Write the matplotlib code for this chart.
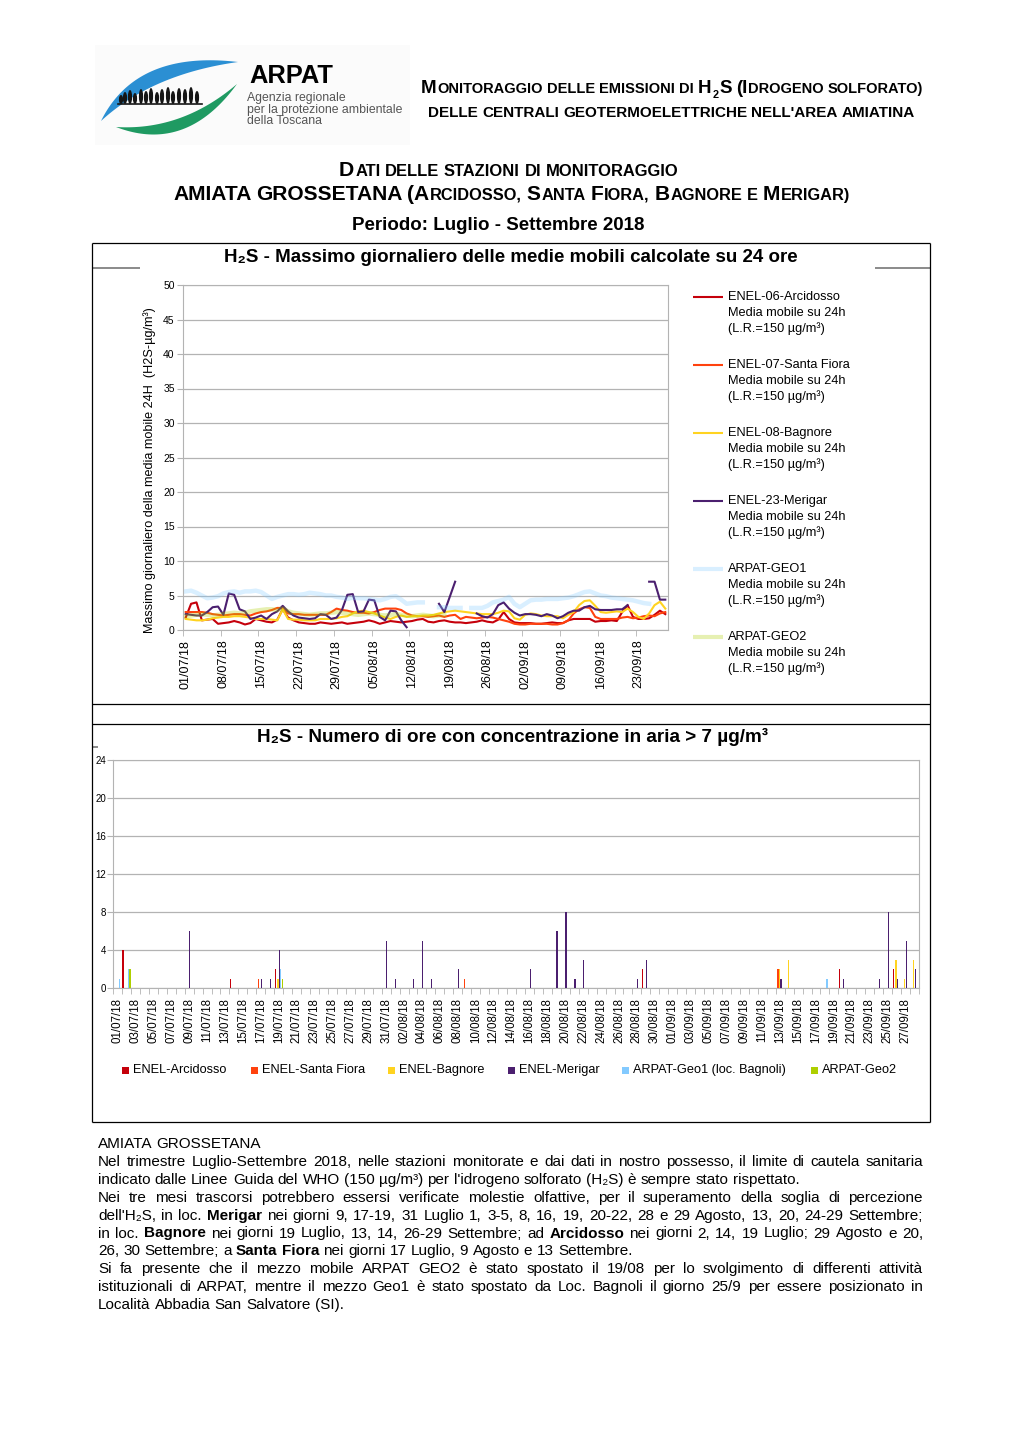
import numpy as np
import pandas as pd
import matplotlib
matplotlib.use('Agg')
import matplotlib.pyplot as plt
from matplotlib.patches import Polygon, Ellipse, Rectangle

# ------------------------------------------------------------------ DATA
start_date = '2018-07-01'
n_days = 90
day_labels = pd.date_range(start_date, periods=n_days).strftime('%d/%m/%y').tolist()
nan = np.nan

# Max daily 24h moving average (ug/m3), days 01/07 .. 28/09
arcidosso = [1.8, 3.8, 4.0, 1.4, 1.5, 1.6, 0.9, 1.0, 1.1, 1.3, 1.1, 0.8, 1.0, 1.6, 1.4, 1.2, 1.1, 1.5, 3.0, 1.8,
             1.4, 1.1, 1.0, 0.9, 0.9, 1.1, 1.0, 0.9, 1.0, 1.1, 0.9,
             1.0, 1.1, 1.2, 1.4, 1.2, 0.9, 1.1, 1.3, 1.2, 1.1, 1.2, 1.3, 1.5, 1.6, 1.2, 1.1, 1.3, 1.4, 1.2,
             1.1, 1.1, 1.0, 1.1, 1.2, 1.4, 1.2, 1.1, 1.5, 2.6, 1.6,
             1.1, 1.0, 1.0, 1.0, 0.9, 0.9, 1.0, 1.1, 1.0, 1.0, 1.4, 1.6, 1.6, 1.6, 1.6, 1.2, 1.3, 1.3, 1.4,
             1.3, 2.6, 3.6, 1.9, 1.6, 1.6, 1.7, 2.2, 2.8, 2.3]
santa_fiora = [2.6, 2.6, 2.6, 2.6, 2.5, 2.3, 2.2, 2.1, 2.2, 2.3, 2.3, 2.2, 2.1, 2.4, 2.6, 2.7, 2.9, 3.2, 3.2, 2.4,
               2.3, 2.3, 2.2, 2.2, 2.2, 2.2, 2.2, 2.6, 3.1, 2.9, 2.8,
               2.6, 2.5, 2.5, 2.4, 2.6, 2.9, 3.1, 3.1, 3.1, 2.9, 2.4, 2.1, 2.0, 2.0, 1.9, 2.0, 2.1, 1.9, 2.1,
               2.2, 1.6, 1.9, 1.8, 1.7, 1.8, 1.9, 1.8, 1.6, 1.4, 1.2,
               0.9, 0.8, 0.8, 0.9, 0.9, 0.9, 0.9, 0.8, 0.8, 1.0, 1.4, 2.4, 3.0, 3.3, 3.2, 1.9, 1.6, 1.6, 1.6,
               1.6, 1.8, 1.9, 1.7, 1.8, 2.0, 2.1, 2.0, 2.4, 2.6]
bagnore = [1.6, 1.5, 1.4, 1.4, 1.5, 1.7, 1.8, 1.9, 1.9, 2.0, 2.0, 1.9, 1.8, 1.6, 1.6, 1.6, 1.5, 1.4, 3.0, 1.6,
           1.5, 1.5, 1.4, 1.4, 1.4, 1.6, 1.6, 1.6, 1.7, 1.9, 2.0,
           2.4, 2.7, 2.8, 2.6, 2.4, 2.1, 1.8, 1.6, 1.9, 2.1, 1.9, 2.0, 2.0, 2.1, 2.1, 2.2, 2.4, 2.6, 2.7,
           2.8, 2.7, 2.6, 2.5, 2.4, 2.3, 2.3, 2.3, 2.5, 2.8, 2.7,
           1.7, 1.5, 2.2, 2.4, 2.3, 2.1, 2.0, 2.0, 2.0, 1.7, 2.2, 2.6, 3.6, 4.2, 4.3, 3.5, 2.6, 2.5, 2.6,
           2.7, 2.6, 3.1, 2.6, 1.9, 1.6, 2.4, 3.6, 4.1, 3.1]
merigar = [2.3, 2.2, 2.1, 2.1, 2.6, 3.3, 3.4, 2.2, 5.3, 5.1, 3.0, 2.7, 1.6, 1.8, 2.1, 1.6, 2.3, 2.7, 3.5, 2.7,
           2.1, 1.8, 1.7, 1.6, 1.7, 2.3, 2.2, 1.6, 1.8, 2.9, 5.1,
           5.2, 2.6, 2.7, 4.4, 4.3, 1.9, 1.4, 2.8, 2.7, 1.4, 0.4, nan, nan, nan, nan, nan, 3.8, 2.6, 4.8,
           7.0, nan, nan, nan, 2.4, 2.0, 1.8, 2.3, 3.6, 4.0, 3.1,
           2.5, 2.1, 2.3, 2.3, 2.2, 2.0, 2.3, 2.1, 1.7, 2.0, 2.5, 2.8, 2.8, 3.3, 3.5, 3.0, 2.9, 2.9, 2.9,
           3.0, 3.0, 3.6, nan, nan, nan, 7.0, 7.0, 4.4, 4.4]
geo1 = [5.6, 5.7, 5.4, 5.0, 4.6, 4.7, 4.9, 5.3, 5.5, 5.6, 5.4, 5.6, 5.6, 5.7, 5.5, 5.0, 4.5, 4.8, 5.0, 5.2,
        5.2, 5.1, 5.2, 5.4, 5.3, 5.2, 5.0, 5.0, 4.8, 4.7, 4.5,
        4.7, 4.6, 4.6, 4.5, 4.4, 4.3, 4.5, 4.8, 4.9, 4.4, 3.8, 3.9, 4.0, 4.0, nan, nan, 3.3, 3.3, 3.2,
        3.2, 3.2, nan, 3.2, 3.2, 3.2, 3.5, 4.0, 4.2, 4.4, 4.8,
        3.8, 3.3, 3.8, 4.3, 4.4, 4.4, 4.5, 4.5, 4.5, 4.6, 4.7, 4.9, 5.2, 5.5, 5.6, 5.3, 5.0, 4.9, 4.7,
        4.6, 4.5, 4.4, 4.3, 4.1, 3.9, 3.8, nan, nan, nan]
geo2 = [2.0, 2.1, 2.2, 2.3, 2.2, 2.1, 2.2, 2.3, 2.4, 2.5, 2.4, 2.5, 2.7, 2.8, 2.9, 3.0, 3.0, 2.9, 3.1, 2.7,
        2.5, 2.4, 2.3, 2.2, 2.3, 2.4, 2.4, 2.5, 2.6, 2.5, 2.4,
        2.3, 2.2, 2.3, 2.4, 2.3, 2.2, 2.1, 2.2, 2.3, 2.2, 2.1, 2.0, 2.1, 2.2, 2.1, 2.0, 2.1, 2.2] + [nan] * 41

# Hours with concentration > 7 ug/m3 : {day number (1 = 01/07): hours}
hours_arcidosso = {2: 4, 14: 1, 19: 2, 60: 2, 82: 2, 88: 2}
hours_santa_fiora = {17: 1, 40: 1, 75: 2}
hours_bagnore = {19: 1, 75: 2, 76: 3, 88: 3, 89: 1, 90: 3}
hours_merigar = {9: 6, 17: 1, 18: 1, 19: 4, 31: 5, 32: 1, 34: 1, 35: 5, 36: 1, 39: 2, 47: 2, 50: 6,
                 51: 8, 52: 1, 53: 3, 59: 1, 60: 3, 75: 1, 82: 1, 86: 1, 87: 8, 88: 1, 89: 5, 90: 2}
hours_geo1 = {1: 1, 2: 2, 19: 2, 80: 1}
hours_geo2 = {2: 2, 19: 1}

line_names = ['ENEL-06-Arcidosso', 'ENEL-07-Santa Fiora', 'ENEL-08-Bagnore',
              'ENEL-23-Merigar', 'ARPAT-GEO1', 'ARPAT-GEO2']
bar_names = ['ENEL-Arcidosso', 'ENEL-Santa Fiora', 'ENEL-Bagnore', 'ENEL-Merigar',
             'ARPAT-Geo1 (loc. Bagnoli)', 'ARPAT-Geo2']
y1_ticks = list(range(0, 51, 5))
y2_ticks = list(range(0, 25, 4))

paragraph = [
    ("AMIATA GROSSETANA", False),
    ("Nel trimestre Luglio-Settembre 2018, nelle stazioni monitorate e dai dati in nostro possesso, il limite di cautela sanitaria", True),
    ("indicato dalle Linee Guida del WHO (150 µg/m³) per l'idrogeno solforato (H₂S) è sempre stato rispettato.", False),
    ("Nei tre mesi trascorsi potrebbero essersi verificate molestie olfattive, per il superamento della soglia di percezione", True),
    ("dell'H₂S, in loc. *Merigar nei giorni 9, 17-19, 31 Luglio 1, 3-5, 8, 16, 19, 20-22, 28 e 29 Agosto, 13, 20, 24-29 Settembre;", True),
    ("in loc. *Bagnore nei giorni 19 Luglio, 13, 14, 26-29 Settembre; ad *Arcidosso nei giorni 2, 14, 19 Luglio; 29 Agosto e 20,", True),
    ("26, 30 Settembre; a *Santa *Fiora nei giorni 17 Luglio, 9 Agosto e 13 Settembre.", False),
    ("Si fa presente che il mezzo mobile ARPAT GEO2 è stato spostato il 19/08 per lo svolgimento di differenti attività", True),
    ("istituzionali di ARPAT, mentre il mezzo Geo1 è stato spostato da Loc. Bagnoli il giorno 25/9 per essere posizionato in", True),
    ("Località Abbadia San Salvatore (SI).", False),
]

# ------------------------------------------------------------------ STYLE
W, H = 1020, 1443
FAM = ['Liberation Sans', 'DejaVu Sans']
NARROW = ['Liberation Sans Narrow', 'Liberation Sans', 'DejaVu Sans']
plt.rcParams['font.family'] = FAM
C_ARC, C_SF, C_BAG, C_MER, C_G1, C_G2 = '#c5000b', '#ff420e', '#ffd320', '#4b1f6f', '#83caff', '#aecf00'
GRID = '#b3b3b3'

fig = plt.figure(figsize=(W / 100, H / 100), dpi=100)
page = fig.add_axes([0, 0, 1, 1])
page.set_xlim(0, W)
page.set_ylim(H, 0)
page.axis('off')
renderer = fig.canvas.get_renderer()


def rect(x0, y0, x1, y1):
    return [x0 / W, 1 - y1 / H, (x1 - x0) / W, (y1 - y0) / H]


def tw(s, size, weight='normal', family=FAM):
    t = page.text(0, 0, s, fontsize=size, fontweight=weight, family=family)
    w = t.get_window_extent(renderer).width
    t.remove()
    return w


def fit_text(s, x0, x1, y, weight='normal', family=FAM, color='black', size_hint=10):
    size = size_hint * (x1 - x0) / tw(s, size_hint, weight, family)
    page.text(x0, y, s, fontsize=size, fontweight=weight, family=family, color=color,
              ha='left', va='baseline')
    return size


def sc_runs(word):
    runs = []
    prev = 'B'
    for ch in word:
        if ch == '₂':
            cls, c = 'sub', '2'
        elif ch.isalpha():
            cls, c = ('B', ch) if ch.isupper() else ('S', ch.upper())
        else:
            cls, c = (prev if prev != 'sub' else 'B'), ch
        if runs and runs[-1][0] == cls:
            runs[-1][1] += c
        else:
            runs.append([cls, c])
        prev = cls
    return runs


def small_caps(text, x0, x1, y, big=12.0, ratio=0.78, weight='bold'):
    all_runs = [sc_runs(w) for w in text.split(' ')]

    def layout(bs):
        sizes = {'B': bs, 'S': bs * ratio, 'sub': bs * 0.58}
        items, x = [], 0.0
        for wi, runs in enumerate(all_runs):
            if wi > 0:
                x += 0.278 * sizes['S'] * 100 / 72
            for ri, (cls, s) in enumerate(runs):
                if ri > 0:
                    x += 0.06 * sizes[cls] * 100 / 72
                items.append((x, cls, s, sizes[cls]))
                x += tw(s, sizes[cls], weight)
        return items, x

    items, total = layout(big)
    items, total = layout(big * (x1 - x0) / total)
    for x, cls, s, size in items:
        dy = 0.3 * big * 100 / 72 if cls == 'sub' else 0
        page.text(x0 + x, y + dy, s, fontsize=size, fontweight=weight, ha='left', va='baseline')


def hline(x0, x1, y, color='black', lw=0.9):
    page.plot([x0, x1], [y, y], color=color, lw=lw, solid_capstyle='butt')


def vline(x, y0, y1, color='black', lw=0.9):
    page.plot([x, x], [y0, y1], color=color, lw=lw, solid_capstyle='butt')


# ------------------------------------------------------------------ LOGO
def bez(p0, c, p2, n=50):
    t = np.linspace(0, 1, n)[:, None]
    return (1 - t) ** 2 * np.array(p0) + 2 * (1 - t) * t * np.array(c) + t ** 2 * np.array(p2)


def crescent(p0, p2, co, ci, color):
    pts = np.vstack([bez(p0, co, p2), bez(p2, ci, p0)])
    page.add_patch(Polygon(pts, closed=True, facecolor=color, edgecolor='none'))


page.add_patch(Rectangle((95, 45), 315, 100, facecolor='#fbfbfb', edgecolor='none'))
crescent((101, 121), (238, 62), (136, 50), (152, 74), '#2b8fd3')
crescent((116, 127), (237, 84), (186, 154), (182, 131), '#1f9a62')
tree_x = [121, 125, 130, 135, 141, 146, 151, 157, 162, 168, 173, 179, 185, 191, 197]
tree_h = [9, 12, 14, 11, 15, 13, 16, 12, 15, 17, 13, 16, 15, 17, 13]
for tx, th in zip(tree_x, tree_h):
    page.add_patch(Ellipse((tx, 104 - th / 2), 4.2, th, facecolor='#151515', edgecolor='none'))
page.plot([118, 202], [104, 104], color='#151515', lw=1.2)
fit_text('ARPAT', 249, 333, 83, weight='bold', size_hint=20)
s_sub = fit_text('per la protezione ambientale', 247, 402, 112.5, color='#555555', size_hint=9)
page.text(247, 101, 'Agenzia regionale', fontsize=s_sub, color='#555555', va='baseline')
page.text(247, 124, 'della Toscana', fontsize=s_sub, color='#555555', va='baseline')

# ------------------------------------------------------------------ HEADER
small_caps('Monitoraggio delle emissioni di H₂S (Idrogeno solforato)', 421, 922, 93)
small_caps('delle centrali geotermoelettriche nell\'area amiatina', 428, 915, 117)
small_caps('Dati delle stazioni di monitoraggio', 339, 678, 176)
small_caps('AMIATA GROSSETANA (Arcidosso, Santa Fiora, Bagnore e Merigar)', 173, 849, 200)
fit_text('Periodo: Luglio - Settembre 2018', 352, 645, 230, weight='bold', size_hint=13)

# ------------------------------------------------------------------ BOXES
hline(92, 930, 243)
hline(92, 140, 268, color='#777777', lw=1.2)
hline(875, 930, 268, color='#777777', lw=1.2)
hline(92, 930, 704)
hline(92, 930, 724)
hline(92, 98, 747, color='#777777', lw=1.2)
hline(92, 930, 1122)
vline(92, 243, 1122)
vline(930, 243, 1122)
fit_text('H₂S - Massimo giornaliero delle medie mobili calcolate su 24 ore', 224, 798, 262,
         weight='bold', family=NARROW, size_hint=13)
fit_text('H₂S - Numero di ore con concentrazione in aria > 7 µg/m³', 257, 766, 742,
         weight='bold', family=NARROW, size_hint=13)

# ------------------------------------------------------------------ LINE CHART
days = np.arange(1, n_days + 1)
ax1 = fig.add_axes(rect(183, 285, 668, 630))
series = [(arcidosso, C_ARC, 1.5, 1.0), (santa_fiora, C_SF, 1.5, 1.0), (bagnore, C_BAG, 1.5, 1.0),
          (merigar, C_MER, 1.5, 1.0), (geo1, C_G1, 3.2, 0.3), (geo2, C_G2, 3.2, 0.3)]
for vals, col, lw, al in series:
    ax1.plot(days, vals, color=col, lw=lw, alpha=al, solid_joinstyle='round')
ax1.set_xlim(0.5, n_days + 0.5)
ax1.set_ylim(0, 50)
ax1.set_yticks(y1_ticks)
ax1.set_yticklabels([str(v) for v in y1_ticks])
ax1.yaxis.grid(True, color=GRID, lw=0.9)
ax1.set_axisbelow(True)
week = list(range(0, n_days, 7))
ax1.set_xticks([days[i] for i in week])
ax1.set_xticklabels([day_labels[i] for i in week], rotation=90, fontsize=9)
ax1.set_xticks([days[i] - 0.5 for i in week], minor=True)
ax1.tick_params(axis='x', which='major', length=0, pad=7)
ax1.tick_params(axis='x', which='minor', length=4, color=GRID)
ax1.tick_params(axis='y', length=4, color=GRID, labelsize=7.5, pad=2)
for sp in ax1.spines.values():
    sp.set_color(GRID)
ylab = 'Massimo giornaliero della media mobile 24H  (H2S-µg/m³)'
ysz = 8 * 326 / tw(ylab, 8)
page.text(150, 470, ylab, fontsize=ysz, rotation=90, ha='center', va='center')

leg_y0 = 297
for i, (name, (vals, col, lw, al)) in enumerate(zip(line_names, series)):
    yy = leg_y0 + 68 * i
    page.plot([693, 723], [yy, yy], color=col, lw=lw if lw < 3 else 3.0, alpha=al, solid_capstyle='butt')
    page.text(728, yy, name, fontsize=9.2, va='center')
    page.text(728, yy + 16, 'Media mobile su 24h', fontsize=9.2, va='center')
    page.text(728, yy + 32, '(L.R.=150 µg/m³)', fontsize=9.2, va='center')

# ------------------------------------------------------------------ BAR CHART
ax2 = fig.add_axes(rect(113, 760, 919, 988))
bar_dicts = [hours_arcidosso, hours_santa_fiora, hours_bagnore, hours_merigar, hours_geo1, hours_geo2]
bar_cols = [C_ARC, C_SF, C_BAG, C_MER, C_G1, C_G2]
offsets = (np.arange(6) - 2.5) * 0.155
for k, (dct, col) in enumerate(zip(bar_dicts, bar_cols)):
    dd = np.array(sorted(dct.keys()))
    hh = np.array([dct[d] for d in dd])
    ax2.bar(dd + offsets[k], hh, width=0.14, color=col, linewidth=0, zorder=3)
ax2.set_xlim(0.5, n_days + 0.5)
ax2.set_ylim(0, 24)
ax2.set_yticks(y2_ticks)
ax2.set_yticklabels([str(v) for v in y2_ticks])
ax2.yaxis.grid(True, color=GRID, lw=0.9)
ax2.set_axisbelow(True)
ax2.set_xticks(days[::2])
ax2.set_xticklabels(day_labels[::2], rotation=90, fontsize=8.3)
ax2.set_xticks(np.arange(0.5, n_days + 1, 1), minor=True)
ax2.tick_params(axis='x', which='major', length=0, pad=7)
ax2.tick_params(axis='x', which='minor', length=4, color=GRID)
ax2.tick_params(axis='y', length=4, color=GRID, labelsize=7, pad=1)
for sp in ax2.spines.values():
    sp.set_color(GRID)

leg_sq = [122, 251, 388, 508, 622, 811]
for xs, name, col in zip(leg_sq, bar_names, bar_cols):
    page.add_patch(Rectangle((xs, 1066.5), 7, 7, facecolor=col, edgecolor='none'))
    page.text(xs + 11, 1070, name, fontsize=9.2, va='center')

# ------------------------------------------------------------------ PARAGRAPH
PX0, PX1 = 98, 923
PSIZE = 11
space_w = tw('a a', PSIZE) - tw('aa', PSIZE)
for li, (line, justify) in enumerate(paragraph):
    yb = 1148 + 17.9 * li
    words = line.split(' ')
    info = []
    for w in words:
        bold = w.startswith('*')
        w = w.lstrip('*')
        info.append((w, bold, tw(w, PSIZE, 'bold' if bold else 'normal')))
    total = sum(i[2] for i in info)
    gap = (PX1 - PX0 - total) / (len(info) - 1) if (justify and len(info) > 1) else space_w
    x = PX0
    for w, bold, wd in info:
        page.text(x, yb, w, fontsize=PSIZE, fontweight='bold' if bold else 'normal',
                  ha='left', va='baseline')
        x += wd + gap

fig.savefig('out.png', dpi=100)
